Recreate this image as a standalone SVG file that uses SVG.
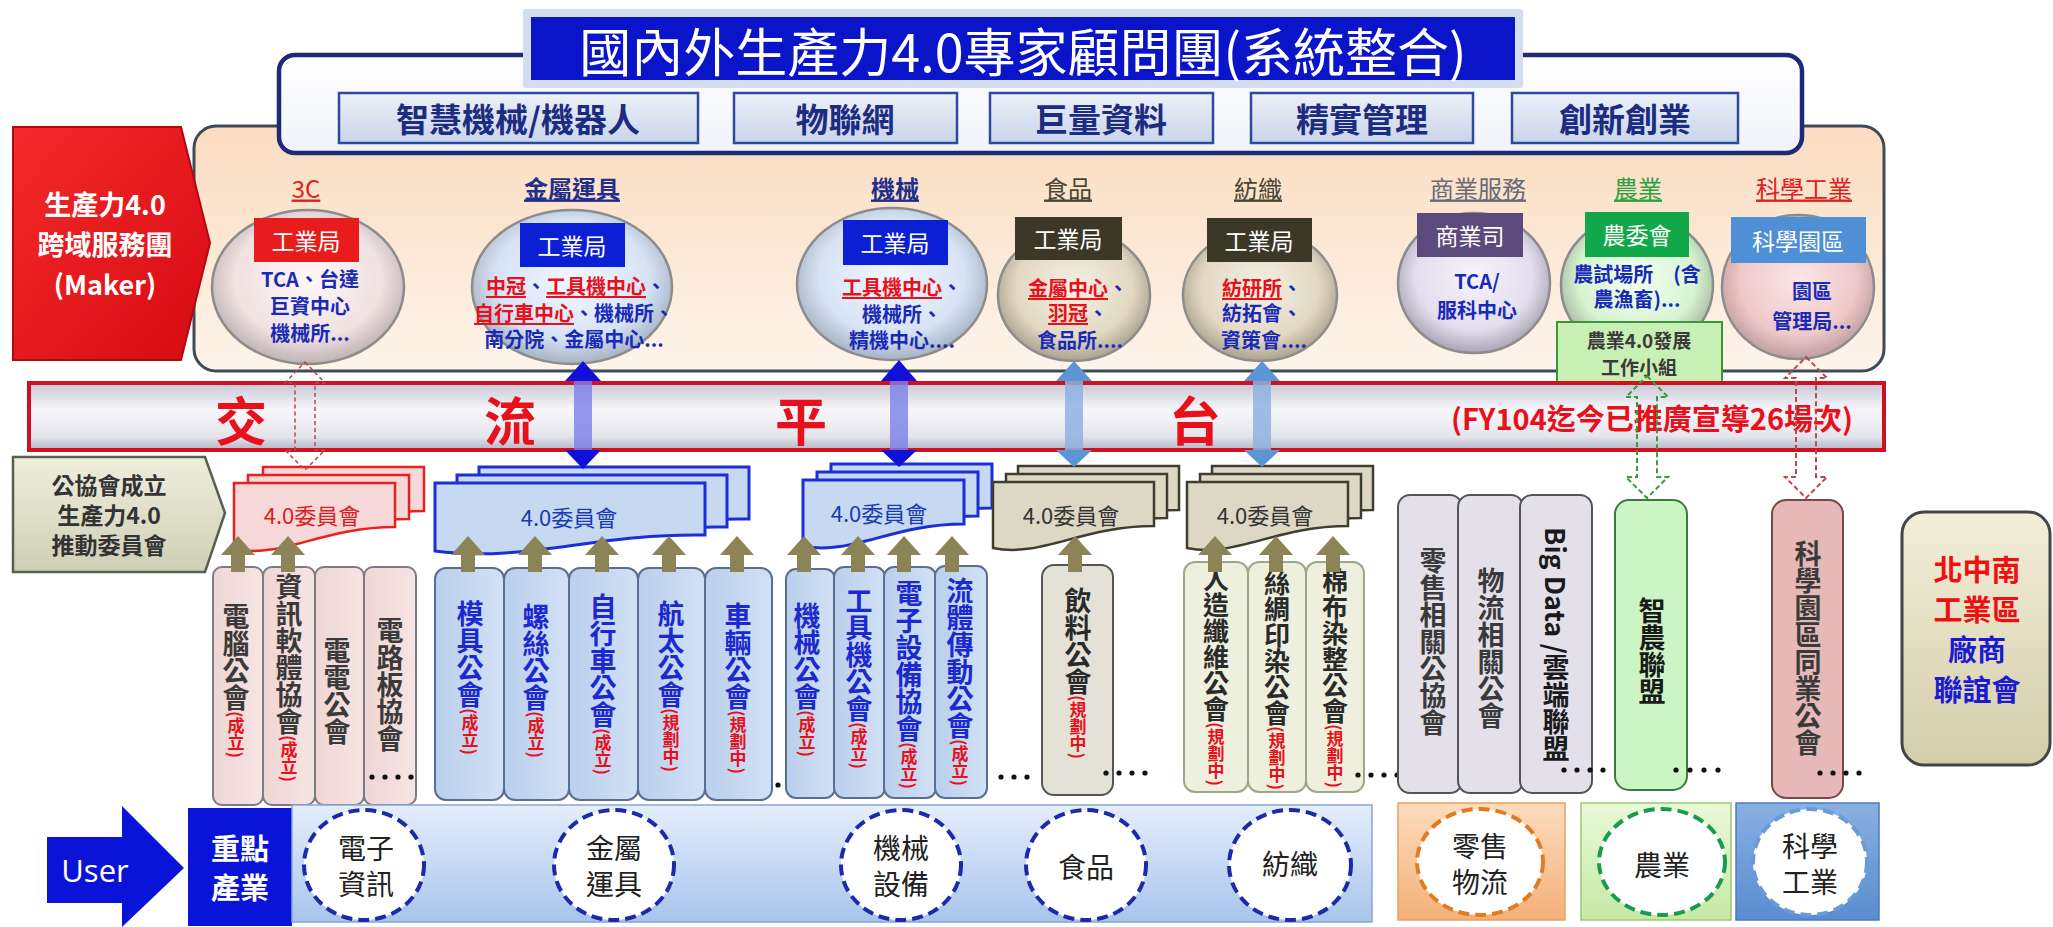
<svg xmlns="http://www.w3.org/2000/svg" width="2053" height="927" viewBox="0 0 2053 927">
<defs>
<style>
text{font-family:"Noto Sans CJK TC","Noto Sans CJK SC",sans-serif;}
.c{text-anchor:middle;dominant-baseline:central;}
.b{font-weight:bold;}
.sub{font-size:33px;font-weight:bold;fill:#1c2c80;}
.subbox{fill:url(#gSub);stroke:#2d4a9c;stroke-width:2.5;}
.cat{font-size:24px;text-decoration:underline;}
.hdr{font-size:23px;fill:#fff;}
.bt{font-size:20px;font-weight:bold;fill:#1a2ab8;}
.ru{fill:#e8101a;text-decoration:underline;}
.vt{writing-mode:vertical-rl;font-size:27px;font-weight:bold;}
.vt26{font-size:26px;}
.sm{font-size:17px;fill:#e8101a;}
.circ{stroke:#8c8c8c;stroke-width:2.5;}
.olive{fill:#8c8456;}
.dot{fill:#111;}
.dc{fill:#fff;stroke-width:4;stroke-dasharray:11 6;}
.bot{font-size:28px;fill:#222;}
</style>
<linearGradient id="gSub" x1="0" y1="0" x2="0" y2="1"><stop offset="0" stop-color="#edf1f9"/><stop offset="1" stop-color="#c8d4ea"/></linearGradient>
<linearGradient id="gBeige" x1="0" y1="0" x2="0" y2="1"><stop offset="0" stop-color="#fbdcc0"/><stop offset="1" stop-color="#fdf4ea"/></linearGradient>
<linearGradient id="gWhite" x1="0" y1="0" x2="0" y2="1"><stop offset="0" stop-color="#ffffff"/><stop offset="1" stop-color="#f1f3f9"/></linearGradient>
<linearGradient id="gRed" x1="0" y1="0" x2="1" y2="1"><stop offset="0" stop-color="#f52a2a"/><stop offset="1" stop-color="#d60a12"/></linearGradient>
<linearGradient id="gBar" x1="0" y1="0" x2="0" y2="1"><stop offset="0" stop-color="#c6c6d4"/><stop offset="0.4" stop-color="#f7f7fb"/><stop offset="0.8" stop-color="#e4e4ec"/><stop offset="1" stop-color="#b4b4c4"/></linearGradient>
<linearGradient id="gPent" x1="0" y1="0" x2="0" y2="1"><stop offset="0" stop-color="#efeedc"/><stop offset="1" stop-color="#cfcfb4"/></linearGradient>
<linearGradient id="gBlueBar" x1="0" y1="0" x2="0" y2="1"><stop offset="0" stop-color="#e4eefc"/><stop offset="1" stop-color="#a8c4ec"/></linearGradient>
<linearGradient id="gOrange" x1="0" y1="0" x2="0" y2="1"><stop offset="0" stop-color="#fcdcbc"/><stop offset="1" stop-color="#f4b079"/></linearGradient>
<linearGradient id="gGreen" x1="0" y1="0" x2="0" y2="1"><stop offset="0" stop-color="#e8f9d8"/><stop offset="1" stop-color="#c6e9a6"/></linearGradient>
<linearGradient id="gBlue2" x1="0" y1="0" x2="0" y2="1"><stop offset="0" stop-color="#88b0e2"/><stop offset="1" stop-color="#5a8cd0"/></linearGradient>
<linearGradient id="gRight" x1="0" y1="0" x2="0" y2="1"><stop offset="0" stop-color="#f3eed9"/><stop offset="1" stop-color="#d4cdaa"/></linearGradient>
<linearGradient id="gPinkBox" x1="0" y1="0" x2="1" y2="0"><stop offset="0" stop-color="#efd6d5"/><stop offset="1" stop-color="#f6e4e3"/></linearGradient>
<linearGradient id="gBlueBox" x1="0" y1="0" x2="1" y2="0"><stop offset="0" stop-color="#b9cfec"/><stop offset="1" stop-color="#d2e1f5"/></linearGradient>
<radialGradient id="rPink" cx="0.5" cy="0.45" r="0.55"><stop offset="0" stop-color="#fff7f7"/><stop offset="0.7" stop-color="#f1e1e1"/><stop offset="1" stop-color="#bdb2b2"/></radialGradient>
<radialGradient id="rBlue" cx="0.5" cy="0.45" r="0.55"><stop offset="0" stop-color="#f2f7ff"/><stop offset="0.7" stop-color="#d6e3f5"/><stop offset="1" stop-color="#a6b2c2"/></radialGradient>
<radialGradient id="rTan" cx="0.5" cy="0.45" r="0.55"><stop offset="0" stop-color="#f6f1e6"/><stop offset="0.7" stop-color="#e2d8c2"/><stop offset="1" stop-color="#a9a18e"/></radialGradient>
<radialGradient id="rPurple" cx="0.5" cy="0.45" r="0.55"><stop offset="0" stop-color="#f6f3fa"/><stop offset="0.7" stop-color="#e2deee"/><stop offset="1" stop-color="#a9a5b4"/></radialGradient>
<radialGradient id="rGreen" cx="0.5" cy="0.45" r="0.55"><stop offset="0" stop-color="#f2fff0"/><stop offset="0.7" stop-color="#d6f4d0"/><stop offset="1" stop-color="#a6b8a2"/></radialGradient>
<radialGradient id="rRose" cx="0.5" cy="0.45" r="0.55"><stop offset="0" stop-color="#fbe6e6"/><stop offset="0.7" stop-color="#efc8c8"/><stop offset="1" stop-color="#bf9e9e"/></radialGradient>
<path id="doc160" d="M0,0 H161 V44 C89,44 48,76 0,66 Z"/>
<path id="doc270" d="M0,0 H270 V52 C160,50 90,80 0,68 Z"/>
<path id="up" d="M0,536 L17,555 L7,555 L7,572 L-7,572 L-7,555 L-17,555 Z"/>
</defs>

<g id="beige-panel">
<rect x="194" y="126" width="1690" height="245" rx="22" fill="url(#gBeige)" stroke="#3e4a5a" stroke-width="3"/>
</g>
<g id="expert-panel">
<rect x="279" y="55" width="1523" height="98" rx="16" fill="url(#gWhite)" stroke="#1c2a78" stroke-width="4.5"/>
<rect x="339" y="93" width="359" height="50" class="subbox"/>
<text x="518" y="118" class="c sub">智慧機械/機器人</text>
<rect x="734" y="93" width="223" height="50" class="subbox"/>
<text x="845" y="118" class="c sub">物聯網</text>
<rect x="990" y="93" width="223" height="50" class="subbox"/>
<text x="1101" y="118" class="c sub">巨量資料</text>
<rect x="1251" y="93" width="222" height="50" class="subbox"/>
<text x="1362" y="118" class="c sub">精實管理</text>
<rect x="1512" y="93" width="226" height="50" class="subbox"/>
<text x="1625" y="118" class="c sub">創新創業</text>
</g>
<g id="title">
<rect x="523" y="9" width="1000" height="79" rx="3" fill="#d3ddf1"/>
<rect x="531" y="17" width="984" height="63" fill="#0a14c8"/>
<text x="1023" y="49" class="c" font-size="52" fill="#fff">國內外生產力4.0專家顧問團(系統整合)</text>
</g>
<g id="maker">
<path d="M13,127 H181 L210,243 L181,360 H13 Z" fill="url(#gRed)" stroke="#b00a10" stroke-width="2"/>
<text class="c b" font-size="27" fill="#fff"><tspan x="105" y="203">生產力4.0</tspan><tspan x="105" y="243">跨域服務團</tspan><tspan x="105" y="283">(Maker)</tspan></text>
</g>

<g id="c-3c">
<text x="306" y="187" class="c cat" fill="#e0201e">3C</text>
<ellipse cx="308" cy="287" rx="96" ry="77" fill="url(#rPink)" class="circ"/>
<rect x="254" y="218" width="105" height="44" fill="#e81c1c"/>
<text x="306" y="240" class="c hdr">工業局</text>
<text class="c bt"><tspan x="310" y="278">TCA、台達</tspan><tspan x="310" y="305">巨資中心</tspan><tspan x="310" y="332">機械所...</tspan></text>
</g>
<g id="c-metal">
<text x="572" y="187" class="c cat b" fill="#1f2f8a">金屬運具</text>
<ellipse cx="572" cy="287" rx="100" ry="77" fill="url(#rBlue)" class="circ"/>
<rect x="520" y="223" width="105" height="44" fill="#0b1fd4"/>
<text x="572" y="245" class="c hdr">工業局</text>
<text class="c bt" font-size="19"><tspan x="576" y="285"><tspan class="ru">中冠</tspan>、<tspan class="ru">工具機中心</tspan>、</tspan><tspan x="574" y="312"><tspan class="ru">自行車中心</tspan>、機械所、</tspan><tspan x="574" y="338">南分院、金屬中心...</tspan></text>
</g>
<g id="c-mach">
<text x="895" y="187" class="c cat b" fill="#1f2f8a">機械</text>
<ellipse cx="892" cy="284" rx="95" ry="76" fill="url(#rBlue)" class="circ"/>
<rect x="843" y="220" width="105" height="45" fill="#0b1fd4"/>
<text x="895" y="242" class="c hdr">工業局</text>
<text class="c bt"><tspan x="902" y="286"><tspan class="ru">工具機中心</tspan>、</tspan><tspan x="902" y="313">機械所、</tspan><tspan x="902" y="339">精機中心....</tspan></text>
</g>
<g id="c-food">
<text x="1068" y="187" class="c cat" fill="#4a4535">食品</text>
<ellipse cx="1074" cy="295" rx="76" ry="66" fill="url(#rTan)" class="circ"/>
<rect x="1015" y="217" width="107" height="43" fill="#3b3828"/>
<text x="1068" y="238" class="c hdr">工業局</text>
<text class="c bt"><tspan x="1078" y="287"><tspan class="ru">金屬中心</tspan>、</tspan><tspan x="1078" y="312"><tspan class="ru">羽冠</tspan>、</tspan><tspan x="1080" y="339">食品所....</tspan></text>
</g>
<g id="c-textile">
<text x="1258" y="187" class="c cat" fill="#4a4535">紡織</text>
<ellipse cx="1260" cy="295" rx="77" ry="66" fill="url(#rTan)" class="circ"/>
<rect x="1207" y="218" width="105" height="44" fill="#3b3828"/>
<text x="1259" y="240" class="c hdr">工業局</text>
<text class="c bt"><tspan x="1262" y="287"><tspan class="ru">紡研所</tspan>、</tspan><tspan x="1262" y="312">紡拓會、</tspan><tspan x="1264" y="339">資策會....</tspan></text>
</g>
<g id="c-commerce">
<text x="1478" y="187" class="c cat" fill="#6a6a78">商業服務</text>
<ellipse cx="1474" cy="283" rx="76" ry="70" fill="url(#rPurple)" class="circ"/>
<rect x="1417" y="213" width="106" height="44" fill="#5c4a7c"/>
<text x="1470" y="235" class="c hdr">商業司</text>
<text class="c bt" font-size="23"><tspan x="1477" y="280">TCA/</tspan><tspan x="1477" y="309">服科中心</tspan></text>
</g>
<g id="c-agri">
<text x="1638" y="187" class="c cat" fill="#2aa040">農業</text>
<ellipse cx="1637" cy="285" rx="76" ry="70" fill="url(#rGreen)" class="circ"/>
<rect x="1585" y="212" width="104" height="45" fill="#11a84a"/>
<text x="1637" y="234" class="c hdr">農委會</text>
<text class="c bt"><tspan x="1637" y="273">農試場所　(含</tspan><tspan x="1637" y="298">農漁畜)...</tspan></text>
<rect x="1557" y="322" width="165" height="61" fill="#c8f0b4" stroke="#3a963a" stroke-width="2"/>
<text class="c b" font-size="19" fill="#3a3a3a"><tspan x="1639" y="339">農業4.0發展</tspan><tspan x="1639" y="366">工作小組</tspan></text>
</g>
<g id="c-science">
<text x="1804" y="187" class="c cat" fill="#e0201e">科學工業</text>
<ellipse cx="1798" cy="287" rx="76" ry="72" fill="url(#rRose)" class="circ"/>
<rect x="1731" y="217" width="135" height="46" fill="#4f8fd6"/>
<text x="1798" y="240" class="c hdr">科學園區</text>
<text class="c bt" font-size="22"><tspan x="1812" y="290">園區</tspan><tspan x="1812" y="320">管理局...</tspan></text>
</g>

<g id="platform">
<rect x="29" y="383" width="1855" height="67" fill="url(#gBar)" stroke="#d0101e" stroke-width="4"/>
<text x="241" y="418" class="c b" font-size="52" fill="#e8101a">交</text>
<text x="510" y="418" class="c b" font-size="52" fill="#e8101a">流</text>
<text x="801" y="418" class="c b" font-size="52" fill="#e8101a">平</text>
<text x="1195" y="418" class="c b" font-size="52" fill="#e8101a">台</text>
<text x="1652" y="417" class="c b" font-size="29" fill="#e8101a">(FY104迄今已推廣宣導26場次)</text>
</g>

<g id="promo">
<path d="M13,457 H205 L225,513 L205,572 H13 Z" fill="url(#gPent)" stroke="#56604f" stroke-width="2.5"/>
<text class="c b" font-size="23" fill="#333"><tspan x="109" y="484">公協會成立</tspan><tspan x="109" y="514">生產力4.0</tspan><tspan x="109" y="544">推動委員會</tspan></text>
</g>

<g id="cm-3c" fill="#f7d8d8" stroke="#e8201e" stroke-width="2.5">
<use href="#doc160" x="263" y="467"/><use href="#doc160" x="248" y="475"/><use href="#doc160" x="234" y="483"/>
<text x="312" y="514" class="c" font-size="22" fill="#d82020" stroke="none">4.0委員會</text>
</g>
<g id="cm-metal" fill="#c6d9f1" stroke="#1a2fd8" stroke-width="3">
<use href="#doc270" x="479" y="467"/><use href="#doc270" x="457" y="475"/><use href="#doc270" x="435" y="483"/>
<text x="569" y="516" class="c" font-size="22" fill="#1a3ab0" stroke="none">4.0委員會</text>
</g>
<g id="cm-mach" fill="#c6d9f1" stroke="#1a2fd8" stroke-width="3">
<use href="#doc160" x="831" y="464"/><use href="#doc160" x="817" y="472"/><use href="#doc160" x="803" y="480"/>
<text x="879" y="512" class="c" font-size="22" fill="#1a3ab0" stroke="none">4.0委員會</text>
</g>
<g id="cm-food" fill="#dcd8c4" stroke="#3e3e30" stroke-width="2.5">
<use href="#doc160" x="1018" y="466"/><use href="#doc160" x="1006" y="474"/><use href="#doc160" x="993" y="482"/>
<text x="1071" y="514" class="c" font-size="22" fill="#333" stroke="none">4.0委員會</text>
</g>
<g id="cm-textile" fill="#dcd8c4" stroke="#3e3e30" stroke-width="2.5">
<use href="#doc160" x="1212" y="466"/><use href="#doc160" x="1200" y="474"/><use href="#doc160" x="1187" y="482"/>
<text x="1265" y="514" class="c" font-size="22" fill="#333" stroke="none">4.0委員會</text>
</g>

<g id="as-3c" fill="url(#gPinkBox)" stroke="#7a7a88" stroke-width="2">
<rect x="213" y="567" width="50" height="238" rx="9"/>
<rect x="263" y="567" width="52" height="238" rx="9"/>
<rect x="315" y="567" width="49" height="238" rx="9"/>
<rect x="364" y="567" width="52" height="238" rx="9"/>
<g stroke="none" fill="#3a3a3a">
<text x="236" y="603" class="vt">電腦公會<tspan class="sm">(成立)</tspan></text>
<text x="289" y="573" class="vt">資訊軟體協會<tspan class="sm">(成立)</tspan></text>
<text x="337" y="637" class="vt">電電公會</text>
<text x="390" y="617" class="vt">電路板協會</text>
<circle cx="372" cy="777" r="2.6" class="dot"/><circle cx="385" cy="777" r="2.6" class="dot"/><circle cx="398" cy="777" r="2.6" class="dot"/><circle cx="411" cy="777" r="2.6" class="dot"/>
</g>
</g>
<g id="as-metal" fill="url(#gBlueBox)" stroke="#5a6f90" stroke-width="2">
<rect x="435" y="568" width="69" height="232" rx="11"/>
<rect x="504" y="568" width="65" height="232" rx="11"/>
<rect x="569" y="568" width="69" height="232" rx="11"/>
<rect x="638" y="568" width="67" height="232" rx="11"/>
<rect x="705" y="568" width="67" height="232" rx="11"/>
<g stroke="none" fill="#1c28d0">
<text x="470" y="600" class="vt">模具公會<tspan class="sm">(成立)</tspan></text>
<text x="536" y="603" class="vt">螺絲公會<tspan class="sm">(成立)</tspan></text>
<text x="603" y="593" class="vt">自行車公會<tspan class="sm">(成立)</tspan></text>
<text x="671" y="600" class="vt">航太公會<tspan class="sm">(規劃中)</tspan></text>
<text x="738" y="602" class="vt">車輛公會<tspan class="sm">(規劃中)</tspan></text>
</g>
<circle cx="778" cy="785" r="2.6" class="dot" stroke="none"/><circle cx="790" cy="785" r="2.6" class="dot" stroke="none"/>
</g>
<g id="as-mach" fill="url(#gBlueBox)" stroke="#5a6f90" stroke-width="2">
<rect x="786" y="569" width="49" height="229" rx="10"/>
<rect x="834" y="567" width="51" height="231" rx="10"/>
<rect x="884" y="567" width="52" height="231" rx="10"/>
<rect x="935" y="566" width="52" height="232" rx="10"/>
<g stroke="none" fill="#1c28d0">
<text x="807" y="602" class="vt">機械公會<tspan class="sm">(成立)</tspan></text>
<text x="859" y="587" class="vt">工具機公會<tspan class="sm">(成立)</tspan></text>
<text x="909" y="580" class="vt">電子設備協會<tspan class="sm">(成立)</tspan></text>
<text x="960" y="577" class="vt">流體傳動公會<tspan class="sm">(成立)</tspan></text>
</g>
<g stroke="none"><circle cx="1001" cy="777" r="2.6" class="dot"/><circle cx="1014" cy="777" r="2.6" class="dot"/><circle cx="1027" cy="777" r="2.6" class="dot"/></g>
</g>
<g id="as-food" fill="#e4e2d6" stroke="#555" stroke-width="2">
<rect x="1042" y="565" width="71" height="230" rx="12"/>
<text x="1078" y="587" class="vt" fill="#2a2a2a" stroke="none">飲料公會<tspan class="sm">(規劃中)</tspan></text>
<g stroke="none"><circle cx="1106" cy="773" r="2.6" class="dot"/><circle cx="1119" cy="773" r="2.6" class="dot"/><circle cx="1132" cy="773" r="2.6" class="dot"/><circle cx="1145" cy="773" r="2.6" class="dot"/></g>
</g>
<g id="as-textile" fill="#eef0dd" stroke="#9aa888" stroke-width="2">
<rect x="1184" y="562" width="64" height="230" rx="11"/>
<rect x="1248" y="562" width="58" height="230" rx="11"/>
<rect x="1306" y="562" width="58" height="230" rx="11"/>
<g stroke="none" fill="#2a2a2a">
<text x="1216" y="566" class="vt vt26">人造纖維公會<tspan class="sm">(規劃中)</tspan></text>
<text x="1277" y="570" class="vt vt26">絲綢印染公會<tspan class="sm">(規劃中)</tspan></text>
<text x="1335" y="568" class="vt vt26">棉布染整公會<tspan class="sm">(規劃中)</tspan></text>
<circle cx="1358" cy="775" r="2.6" class="dot"/><circle cx="1371" cy="775" r="2.6" class="dot"/><circle cx="1384" cy="775" r="2.6" class="dot"/><circle cx="1397" cy="775" r="2.6" class="dot"/>
</g>
</g>
<g id="as-retail" fill="#e3e0ea" stroke="#555" stroke-width="2">
<rect x="1398" y="495" width="64" height="298" rx="12"/>
<rect x="1458" y="495" width="65" height="298" rx="12"/>
<rect x="1520" y="495" width="72" height="298" rx="12"/>
<g stroke="none" fill="#3a3a3a">
<text x="1433" y="547" class="vt">零售相關公協會</text>
<text x="1491" y="567" class="vt">物流相關公會</text>
<text x="1556" y="527" class="vt" fill="#1a1a1a">Big Data /雲端聯盟</text>
<circle cx="1564" cy="770" r="2.6" class="dot"/><circle cx="1577" cy="770" r="2.6" class="dot"/><circle cx="1590" cy="770" r="2.6" class="dot"/><circle cx="1603" cy="770" r="2.6" class="dot"/>
</g>
</g>
<g id="as-agri" fill="#ccf5c4" stroke="#3d7a3d" stroke-width="2">
<rect x="1615" y="500" width="72" height="290" rx="14"/>
<text x="1652" y="597" class="vt" fill="#1a1a1a" stroke="none">智農聯盟</text>
<g stroke="none"><circle cx="1676" cy="770" r="2.6" class="dot"/><circle cx="1690" cy="770" r="2.6" class="dot"/><circle cx="1704" cy="770" r="2.6" class="dot"/><circle cx="1718" cy="770" r="2.6" class="dot"/></g>
</g>
<g id="as-science" fill="#e6b8b7" stroke="#7a4848" stroke-width="2">
<rect x="1772" y="500" width="71" height="298" rx="14"/>
<text x="1808" y="540" class="vt" fill="#3a3a3a" stroke="none">科學園區同業公會</text>
<g stroke="none"><circle cx="1820" cy="773" r="2.6" class="dot"/><circle cx="1833" cy="773" r="2.6" class="dot"/><circle cx="1846" cy="773" r="2.6" class="dot"/><circle cx="1859" cy="773" r="2.6" class="dot"/></g>
</g>

<g id="connectors">
<g class="olive">
<use href="#up" x="238"/><use href="#up" x="288"/>
<use href="#up" x="468"/><use href="#up" x="535"/><use href="#up" x="602"/><use href="#up" x="669"/><use href="#up" x="737"/>
<use href="#up" x="804"/><use href="#up" x="858"/><use href="#up" x="904"/><use href="#up" x="952"/>
<use href="#up" x="1075"/>
<use href="#up" x="1215"/><use href="#up" x="1276"/><use href="#up" x="1333"/>
</g>
<g id="arr-metal">
<rect x="574" y="380" width="18" height="72" fill="#7b7fe8" opacity="0.8"/>
<path d="M565,381 L601,381 L583,361 Z M565,450 L601,450 L583,469 Z" fill="#1010d8"/>
</g>
<g id="arr-mach">
<rect x="890" y="380" width="18" height="72" fill="#7b7fe8" opacity="0.8"/>
<path d="M881,381 L917,381 L899,360 Z M881,450 L917,450 L899,467 Z" fill="#1010d8"/>
</g>
<g id="arr-food">
<rect x="1065" y="380" width="18" height="72" fill="#8fb2e2" opacity="0.85"/>
<path d="M1056,381 L1092,381 L1074,361 Z M1056,450 L1092,450 L1074,467 Z" fill="#5b95d5"/>
</g>
<g id="arr-textile">
<rect x="1253" y="380" width="18" height="72" fill="#8fb2e2" opacity="0.85"/>
<path d="M1244,381 L1280,381 L1262,361 Z M1244,450 L1280,450 L1262,467 Z" fill="#5b95d5"/>
</g>
<path id="arr-3c" d="M305,362 L325,383 L315,383 L315,450 L325,450 L305,470 L285,450 L295,450 L295,383 L285,383 Z" fill="none" stroke="#b8484a" stroke-width="1.5" stroke-dasharray="4 3"/>
<path id="arr-agri" d="M1647,376 L1668,397 L1657,397 L1657,477 L1668,477 L1647,498 L1626,477 L1637,477 L1637,397 L1626,397 Z" fill="none" stroke="#3a9a3a" stroke-width="2" stroke-dasharray="5 3"/>
<path id="arr-sci" d="M1806,357 L1827,378 L1816,378 L1816,477 L1827,477 L1806,498 L1785,477 L1796,477 L1796,378 L1785,378 Z" fill="none" stroke="#b8484a" stroke-width="2" stroke-dasharray="5 3"/>
</g>

<g id="user">
<path d="M47,837 H122 V806 L184,868 L122,927 V903 H47 Z" fill="#0a14d8"/>
<text x="95" y="870" class="c" font-size="31" fill="#fff" style="font-family:'Open Sans',sans-serif">User</text>
</g>
<g id="key-industry">
<rect x="188" y="808" width="104" height="118" fill="#0a14d8"/>
<text class="c b" font-size="29" fill="#fff"><tspan x="240" y="847">重點</tspan><tspan x="240" y="886">產業</tspan></text>
</g>
<g id="blue-band">
<rect x="292" y="805" width="1080" height="117" fill="url(#gBlueBar)" stroke="#88a8d0" stroke-width="1.5"/>
<g stroke="#1a2aa8">
<ellipse cx="364" cy="865" rx="60" ry="55" class="dc"/>
<ellipse cx="614" cy="865" rx="60" ry="55" class="dc"/>
<ellipse cx="901" cy="865" rx="60" ry="55" class="dc"/>
<ellipse cx="1086" cy="865" rx="60" ry="55" class="dc"/>
<ellipse cx="1290" cy="865" rx="61" ry="55" class="dc"/>
</g>
<text class="c bot"><tspan x="366" y="847">電子</tspan><tspan x="366" y="883">資訊</tspan></text>
<text class="c bot"><tspan x="614" y="847">金屬</tspan><tspan x="614" y="883">運具</tspan></text>
<text class="c bot"><tspan x="901" y="847">機械</tspan><tspan x="901" y="883">設備</tspan></text>
<text x="1086" y="866" class="c bot">食品</text>
<text x="1290" y="863" class="c bot">紡織</text>
</g>
<g id="retail-band">
<rect x="1398" y="803" width="167" height="117" fill="url(#gOrange)" stroke="#e8a060" stroke-width="1.5"/>
<ellipse cx="1480" cy="862" rx="63" ry="53" class="dc" stroke="#e07b20"/>
<text class="c bot"><tspan x="1480" y="845">零售</tspan><tspan x="1480" y="881">物流</tspan></text>
</g>
<g id="agri-band">
<rect x="1581" y="803" width="150" height="117" fill="url(#gGreen)" stroke="#9cc670" stroke-width="1.5"/>
<ellipse cx="1662" cy="862" rx="63" ry="53" class="dc" stroke="#1a9a50"/>
<text x="1662" y="864" class="c bot">農業</text>
</g>
<g id="science-band">
<rect x="1736" y="803" width="143" height="117" fill="url(#gBlue2)" stroke="#4a7cc0" stroke-width="1.5"/>
<ellipse cx="1810" cy="862" rx="57" ry="53" class="dc" stroke="#6a9ad8" stroke-width="3"/>
<text class="c bot"><tspan x="1810" y="845">科學</tspan><tspan x="1810" y="881">工業</tspan></text>
</g>
<g id="park-assoc">
<rect x="1902" y="512" width="148" height="253" rx="22" fill="url(#gRight)" stroke="#444" stroke-width="3"/>
<text class="c b" font-size="29"><tspan x="1977" y="568" fill="#ee1010">北中南</tspan><tspan x="1977" y="608" fill="#ee1010">工業區</tspan><tspan x="1977" y="648" fill="#1a1ad0">廠商</tspan><tspan x="1977" y="688" fill="#1a1ad0">聯誼會</tspan></text>
</g>
</svg>
